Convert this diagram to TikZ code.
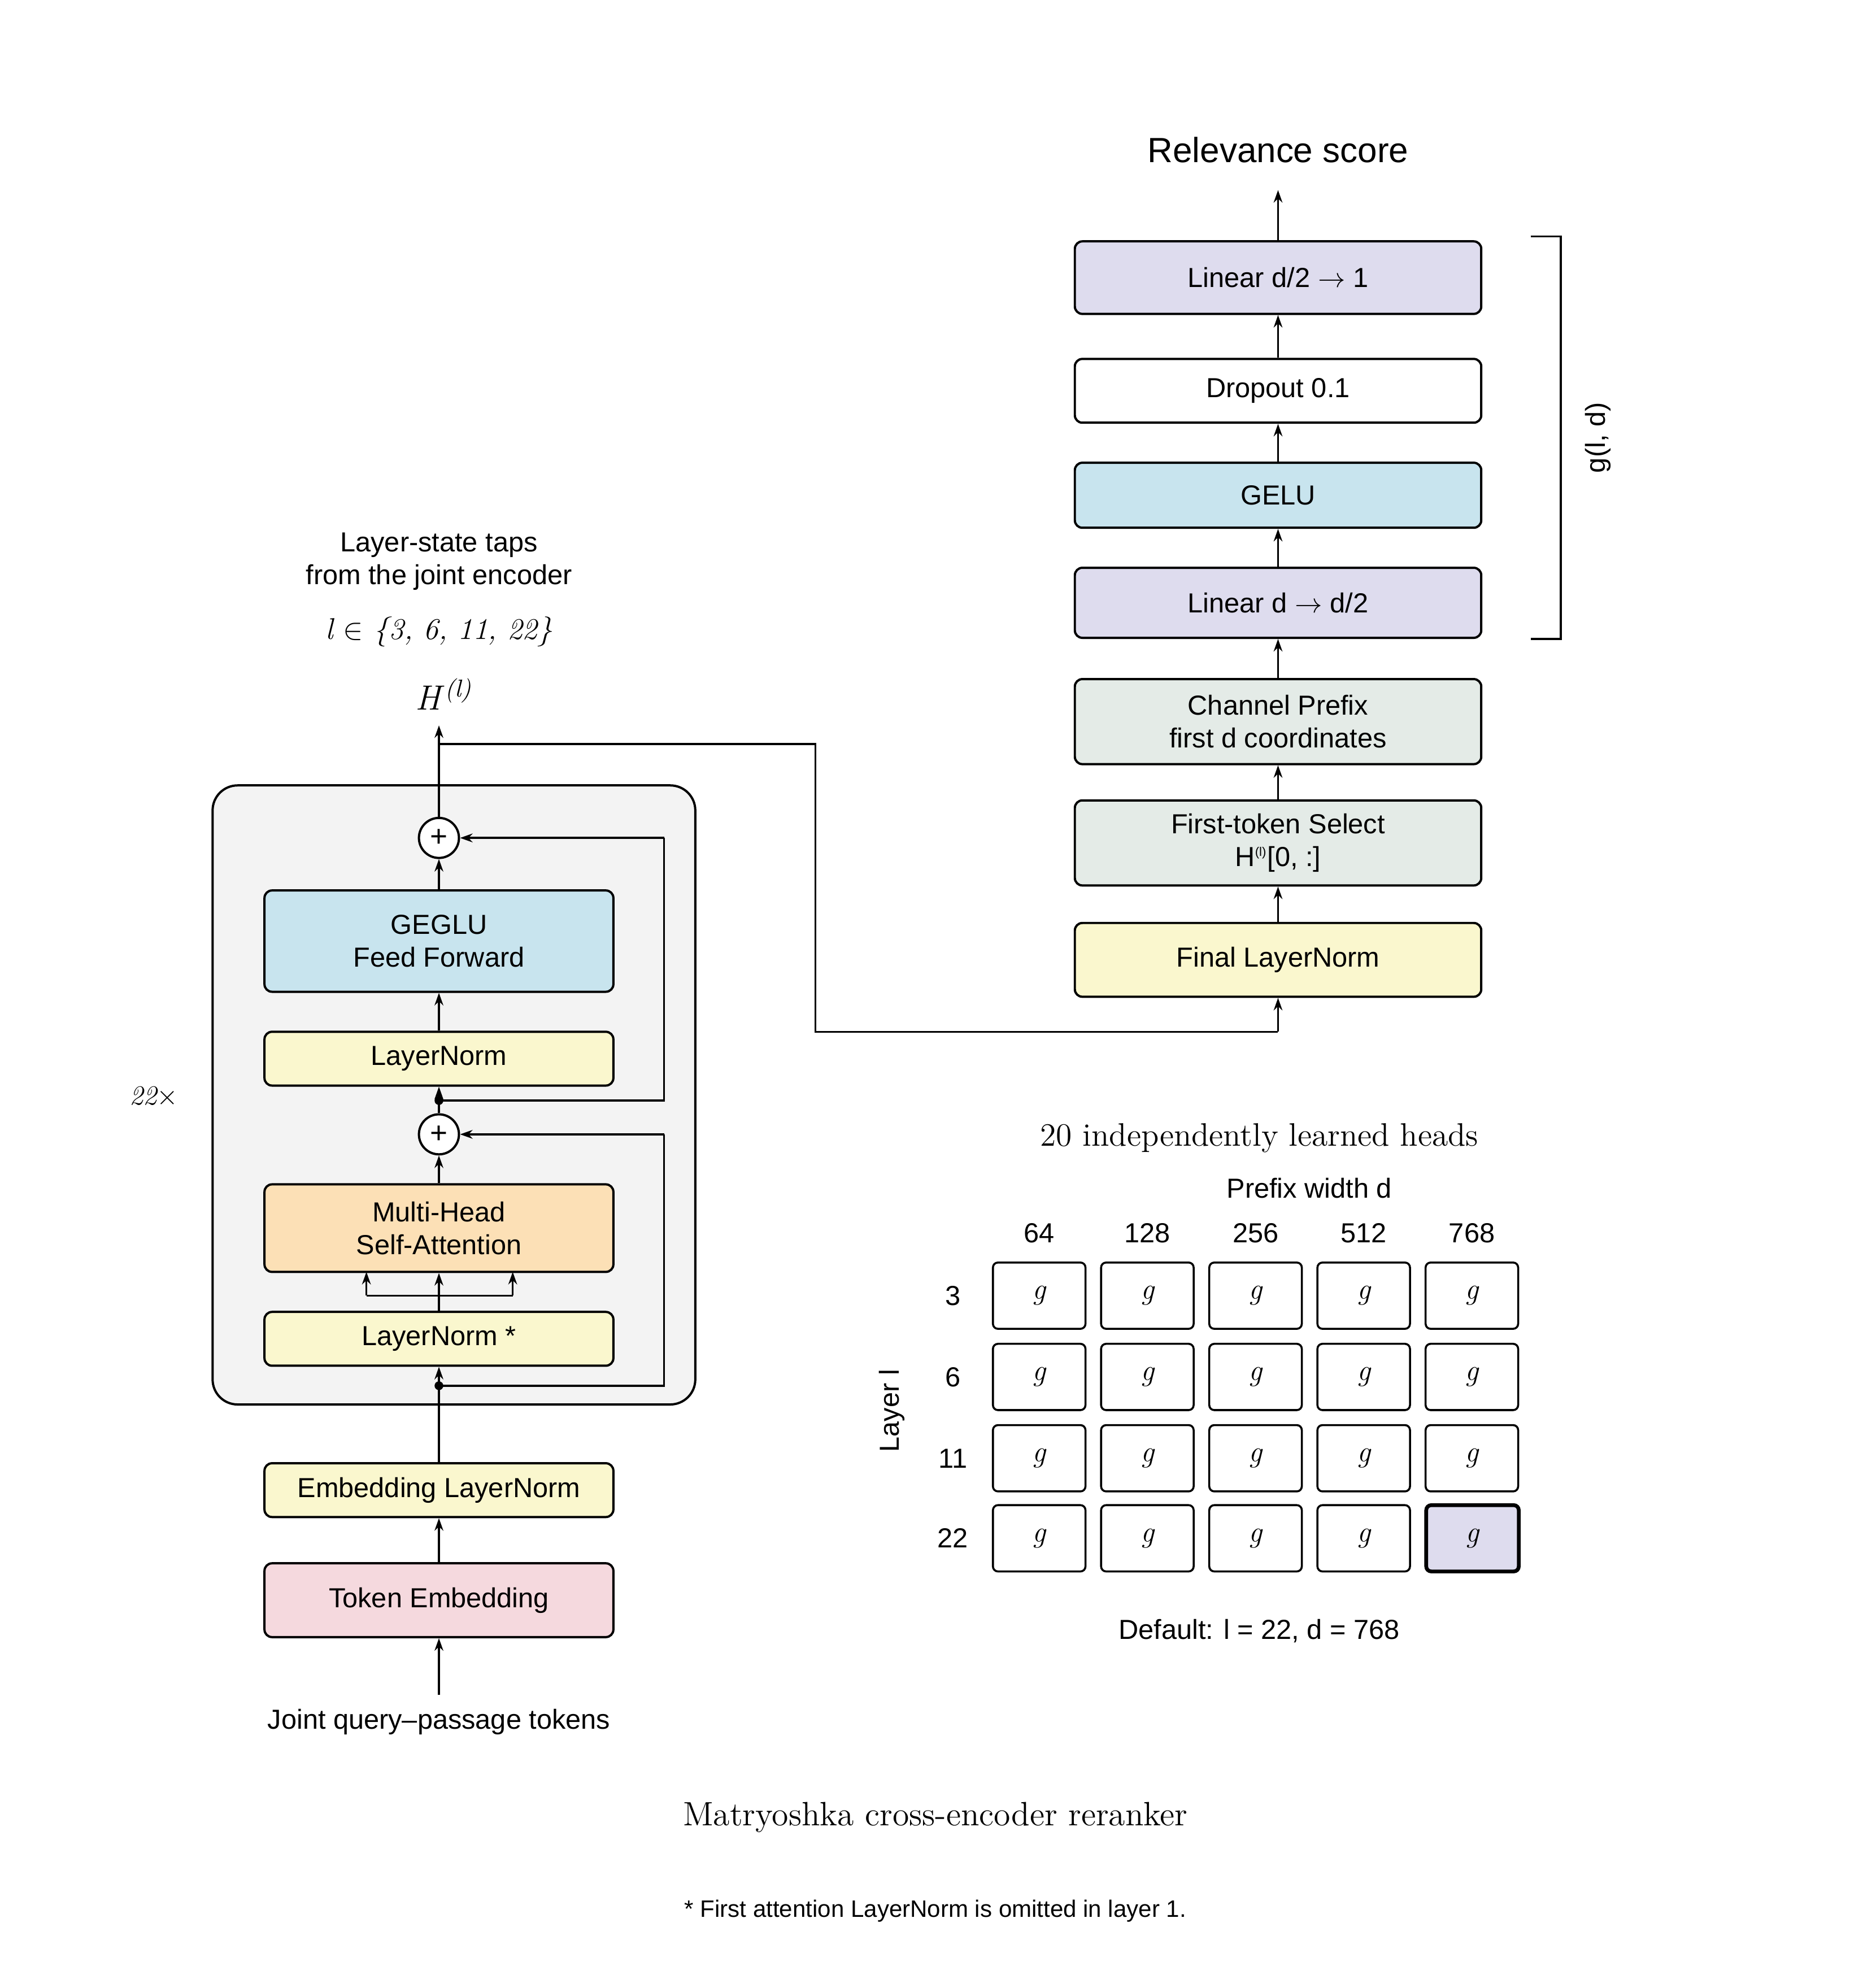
\documentclass[tikz,border=0pt]{standalone}
\usepackage{fontspec}
\setsansfont{Liberation Sans}
\usetikzlibrary{arrows.meta}
\definecolor{cblue}{HTML}{C8E4EE}
\definecolor{cyel}{HTML}{FAF7CE}
\definecolor{corange}{HTML}{FCE0B6}
\definecolor{cpink}{HTML}{F5D9DE}
\definecolor{cgreen}{HTML}{E4EBE7}
\definecolor{clav}{HTML}{DEDCEE}
\definecolor{cgray}{HTML}{F3F3F3}
\begin{document}
\begin{tikzpicture}[x=0.5pt,y=-0.5pt,
  blk/.style={draw,line width=0.9pt,rounded corners=3pt,font=\sffamily\fontsize{11}{13}\selectfont,align=center,inner sep=0pt},
  arr/.style={-{Stealth[length=5pt,width=3.5pt]},line width=0.8pt},
  ln/.style={line width=0.8pt},
  plus/.style={draw,circle,line width=0.9pt,fill=white,minimum size=16pt,inner sep=0pt,font=\sffamily\fontsize{12}{12}\selectfont},
  cell/.style={draw,line width=0.8pt,rounded corners=2pt,minimum width=37pt,minimum height=26.5pt,inner sep=0pt,font=\fontsize{12}{12}\selectfont\itshape},
  lbl/.style={font=\sffamily\fontsize{11}{13}\selectfont,align=center}]
\useasboundingbox (0,0) rectangle (1500,1572);
% left outer box
\draw[fill=cgray,line width=0.9pt,rounded corners=10pt] (170,628) rectangle (556,1123);
\def\bw{139.5pt}
\node[blk,fill=cpink,minimum width=139.5pt,minimum height=29.5pt] (tok) at (351,1279.5) {Token Embedding};
\node[blk,fill=cyel,minimum width=139.5pt,minimum height=21.5pt] (eln) at (351,1191.5) {Embedding LayerNorm};
\node[blk,fill=cyel,minimum width=139.5pt,minimum height=21.5pt] (ln1) at (351,1070.5) {LayerNorm *};
\node[blk,fill=corange,minimum width=139.5pt,minimum height=35pt] (mhsa) at (351,982) {Multi-Head\\Self-Attention};
\node[plus] (p2) at (351,907) {+};
\node[blk,fill=cyel,minimum width=139.5pt,minimum height=21.5pt] (ln2) at (351,846.5) {LayerNorm};
\node[blk,fill=cblue,minimum width=139.5pt,minimum height=40.5pt] (ff) at (351,752.5) {GEGLU\\Feed Forward};
\node[plus] (p1) at (351,670) {+};
\node[font=\fontsize{14}{14}\selectfont\itshape] (H) at (355,555) {H\textsuperscript{\,(\textit{l})}};
\node[font=\fontsize{12}{12}\selectfont\itshape] (lset) at (351,505) {l $\in$ \{3, 6, 11, 22\}};
\node[lbl] (taps) at (351,449) {Layer-state taps\\from the joint encoder};
\node[font=\fontsize{11}{11}\selectfont\itshape] (rep) at (123,877) {22$\times$};
\node[lbl] (inp) at (351,1377) {Joint query--passage tokens};
\coordinate (in0) at (351,1355);
\coordinate (d1) at (351,1108);
\coordinate (d2) at (351,880);
\coordinate (top) at (351,580);
\coordinate (tap) at (351,595);
\draw[arr] (in0) -- (tok.south);
\draw[arr] (tok.north) -- (eln.south);
\draw[arr] (eln.north) -- (ln1.south);
\fill (d1) circle (3.5);
\draw[ln] (d1) -- (531,1108) -- (531,907);
\draw[arr] (531,907) -- (p2.east);
\draw[ln] (ln1.north) -- (351,1036);
\draw[ln] (293,1036) -- (410,1036);
\draw[arr] (293,1036) -- (293,1017);
\draw[arr] (351,1036) -- (mhsa.south);
\draw[arr] (410,1036) -- (410,1017);
\draw[arr] (mhsa.north) -- (p2.south);
\draw[ln] (p2.north) -- (d2);
\fill (d2) circle (3.5);
\draw[arr] (d2) -- (ln2.south);
\draw[ln] (d2) -- (531,880) -- (531,670);
\draw[arr] (531,670) -- (p1.east);
\draw[arr] (ln2.north) -- (ff.south);
\draw[arr] (ff.north) -- (p1.south);
\draw[arr] (p1.north) -- (top);
% right column
\node[blk,fill=cyel,minimum width=162.5pt,minimum height=29.5pt] (fln) at (1022,767.5) {Final LayerNorm};
\node[blk,fill=cgreen,minimum width=162.5pt,minimum height=34pt] (fts) at (1022,674) {First-token Select\\H\textsuperscript{\tiny(l)}[0, :]};
\node[blk,fill=cgreen,minimum width=162.5pt,minimum height=34pt] (cp) at (1022,577) {Channel Prefix\\first d coordinates};
\node[blk,fill=clav,minimum width=162.5pt,minimum height=28pt] (lin1) at (1022,482) {Linear d $\to$ d/2};
\node[blk,fill=cblue,minimum width=162.5pt,minimum height=26pt] (gelu) at (1022,396) {GELU};
\node[blk,fill=white,minimum width=162.5pt,minimum height=25.5pt] (drop) at (1022,312.5) {Dropout 0.1};
\node[blk,fill=clav,minimum width=162.5pt,minimum height=29pt] (lin2) at (1022,222) {Linear d/2 $\to$ 1};
\node[font=\sffamily\fontsize{14}{14}\selectfont] (rel) at (1022,120) {Relevance score};
\coordinate (out) at (1022,152);
\draw[ln] (tap) -- (652,595) -- (652,825) -- (1022,825);
\draw[arr] (1022,825) -- (fln.south);
\draw[arr] (fln.north) -- (fts.south);
\draw[arr] (fts.north) -- (cp.south);
\draw[arr] (cp.north) -- (lin1.south);
\draw[arr] (lin1.north) -- (gelu.south);
\draw[arr] (gelu.north) -- (drop.south);
\draw[arr] (drop.north) -- (lin2.south);
\draw[arr] (lin2.north) -- (out);
\draw[ln] (1224,189) -- (1248,189) -- (1248,511) -- (1224,511);
\node[lbl,rotate=90] (gld) at (1278,350) {g(l, d)};
% grid
\node[font=\fontsize{13}{13}\selectfont] (gt) at (1007,910) {20 independently learned heads};
\node[lbl] (pw) at (1047,950) {Prefix width d};
\node[lbl,rotate=90] (ll) at (713,1128) {Layer l};
\foreach \w [count=\i] in {64,128,256,512,768}{
  \node[lbl] (c\i) at ({831+86.5*(\i-1)},986) {\w};
}
\foreach \r/\y [count=\j] in {3/1036,6/1101,11/1166,22/1230}{
  \node[lbl] (r\j) at (762,\y) {\r};
  \foreach \i in {1,...,5}{
    \node[cell] (g\j\i) at ({831+86.5*(\i-1)},\y) {g};
  }
}
\node[cell,fill=clav,line width=1.5pt] (g45h) at (1177.5,1230) {g};
\node[lbl] (def) at (1007,1304) {Default: l = 22, d = 768};
\node[font=\fontsize{13.5}{14}\selectfont] (cap) at (748,1453) {Matryoshka cross-encoder reranker};
\node[font=\sffamily\fontsize{9.5}{11}\selectfont] (fn) at (748,1528) {* First attention LayerNorm is omitted in layer 1.};
\end{tikzpicture}
\end{document}
